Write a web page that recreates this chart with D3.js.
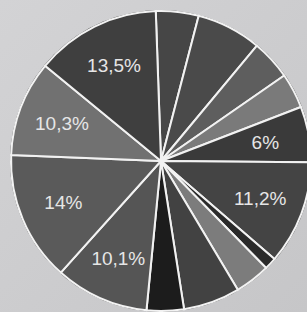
<!DOCTYPE html>
<html>
<head>
<meta charset="utf-8">
<script src="https://cdn.jsdelivr.net/npm/d3@7"></script>
<style>
html,body{margin:0;padding:0;background:#cdcdcf;}
svg{display:block;}
</style>
</head>
<body>
<svg id="chart" width="307" height="312"></svg>
<script>
// Slice values (percent), clockwise from just left of 12 o'clock
const values = [4.6, 7, 4.3, 3.8, 6, 11.2, 1.3, 3.8, 6.1, 4, 10.1, 14, 10.3, 13.5];
const labels = ["", "", "", "", "6%", "11,2%", "", "", "", "", "10,1%", "14%", "10,3%", "13,5%"];
const colors = ["#464646", "#4a4a4a", "#5e5e5e", "#7a7a7a", "#3a3a3a", "#444444", "#2a2a2a",
                "#7c7c7c", "#424242", "#1c1c1c", "#555555", "#5a5a5a", "#717171", "#3f3f3f"];

const svg = d3.select("#chart");
const defs = svg.append("defs");
const bg = defs.append("linearGradient").attr("id", "bg")
  .attr("x1", "0").attr("y1", "0").attr("x2", "1").attr("y2", "1");
bg.append("stop").attr("offset", "0").attr("stop-color", "#d3d3d5");
bg.append("stop").attr("offset", "1").attr("stop-color", "#c6c6c8");
svg.append("rect").attr("width", 307).attr("height", 312).attr("fill", "url(#bg)");

const cx = 161, cy = 161, r = 150;
const start = -2 * Math.PI / 180;
const pie = d3.pie().sort(null).value(d => d)
  .startAngle(start).endAngle(start + 2 * Math.PI);
const arcs = pie(values);
const arc = d3.arc().innerRadius(0).outerRadius(r);
const labelArc = d3.arc().innerRadius(106).outerRadius(106);

const g = svg.append("g").attr("transform", `translate(${cx},${cy})`);
g.append("circle").attr("r", r + 1).attr("fill", "#2e2e2e");
g.selectAll("path.slice").data(arcs).enter().append("path")
  .attr("class", "slice")
  .attr("d", arc)
  .attr("fill", (d, i) => colors[i])
  .attr("stroke", "#f2f2f2")
  .attr("stroke-width", 2)
  .attr("stroke-linejoin", "round");

g.selectAll("text.lbl").data(arcs).enter().append("text")
  .attr("class", "lbl")
  .attr("transform", d => `translate(${labelArc.centroid(d)})`)
  .attr("text-anchor", "middle")
  .attr("dominant-baseline", "central")
  .attr("font-family", "Liberation Sans, Arial, sans-serif")
  .attr("font-size", 19)
  .attr("fill", "#e6e6e6")
  .text((d, i) => labels[i]);
</script>
</body>
</html>
